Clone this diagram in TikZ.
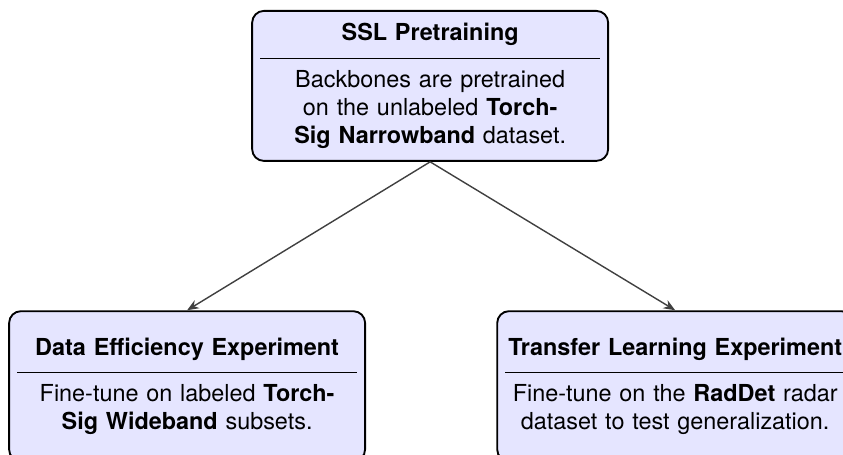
\documentclass[tikz,border=0pt]{standalone}
\usepackage{fontspec}
\setmainfont{TeX Gyre Heros}
\usetikzlibrary{arrows.meta}

\begin{document}
\begin{tikzpicture}[
    stage/.style={draw=black, line width=0.8pt, rounded corners=5pt, fill=blue!10,
      text width=145.3pt, inner xsep=3.4pt, inner ysep=5pt, minimum height=64.1pt, align=center},
    flow/.style={-{Stealth[length=5pt,width=4pt]}, draw=black!75, line width=0.6pt}
  ]
    \useasboundingbox (0,0) rectangle (12.66,6.83);
    \node [stage] (ssl) at (6.46,5.54) {\textbf{SSL Pretraining}\par\vspace{5pt}\hrule\vspace{5pt}Backbones are pretrained\\on the unlabeled \textbf{Torch-}\\\textbf{Sig Narrowband} dataset.};
    \node [stage] (eff) at (2.81,1.03) {\textbf{Data Efficiency Experiment}\par\vspace{5pt}\hrule\vspace{5pt}Fine-tune on labeled \textbf{Torch-}\\\textbf{Sig Wideband} subsets.};
    \node [stage] (tl) at (10.14,1.03) {\textbf{Transfer Learning Experiment}\par\vspace{5pt}\hrule\vspace{5pt}Fine-tune on the \textbf{RadDet} radar\\dataset to test generalization.};
    \draw [flow] (ssl.south) -- (eff.north);
    \draw [flow] (ssl.south) -- (tl.north);
  \end{tikzpicture}
\end{document}
